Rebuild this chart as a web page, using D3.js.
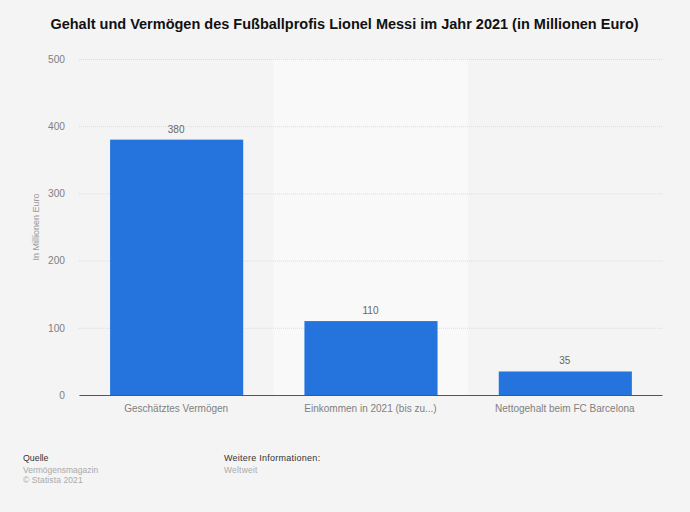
<!DOCTYPE html>
<html lang="de">
<head>
    <meta charset="UTF-8">
    <title>Gehalt und Vermögen Lionel Messi 2021</title>
    <script src="https://d3js.org/d3.v7.min.js"></script>
    <style>
        html, body { margin: 0; padding: 0; background: #f4f4f4; }
        svg { display: block; font-family: "Liberation Sans", Arial, sans-serif; }
    </style>
</head>
<body>

<svg width="690" height="512"></svg>

<script>

    var categories = ["Geschätztes Vermögen", "Einkommen in 2021 (bis zu...)", "Nettogehalt beim FC Barcelona"];
    var values = [380, 110, 35];
    var yTicks = [0, 100, 200, 300, 400, 500];

    var svg = d3.select("svg"),
        margin = {top: 59, right: 28, bottom: 117, left: 79},
        width = +svg.attr("width") - margin.left - margin.right,
        height = +svg.attr("height") - margin.top - margin.bottom;

    var g = svg.append("g")
        .attr("transform", "translate(" + margin.left + "," + margin.top + ")");

    var x = d3.scaleBand()
        .domain(categories)
        .range([0, width]);

    var y = d3.scaleLinear()
        .domain([0, 500])
        .range([height, 0]);

    // lighter band behind the middle category
    g.append("rect")
        .attr("x", x(categories[1]))
        .attr("y", 0)
        .attr("width", x.bandwidth())
        .attr("height", height)
        .attr("fill", "#f9f9f9");

    // y axis, gridlines come from the tick size
    var yAxis = g.append("g")
        .call(d3.axisLeft(y).tickValues(yTicks).tickSize(-width).tickPadding(14));
    yAxis.select(".domain").remove();
    yAxis.selectAll("line")
        .attr("stroke", "#dcdcdc")
        .attr("stroke-dasharray", "1,1");
    yAxis.selectAll("text")
        .attr("fill", "#808080")
        .attr("font-size", 10.2);

    // bars
    g.selectAll(".bar")
        .data(values)
        .enter()
        .append("rect")
        .attr("class", "bar")
        .attr("x", function (d, i) { return x(categories[i]) + x.bandwidth() * 0.16; })
        .attr("y", function (d) { return y(d); })
        .attr("width", x.bandwidth() * 0.685)
        .attr("height", function (d) { return height - y(d); })
        .attr("fill", "#2574de");

    // value labels
    g.selectAll(".value")
        .data(values)
        .enter()
        .append("text")
        .attr("class", "value")
        .attr("x", function (d, i) { return x(categories[i]) + x.bandwidth() / 2; })
        .attr("y", function (d) { return y(d) - 7; })
        .attr("text-anchor", "middle")
        .attr("fill", "#666")
        .attr("font-size", 10)
        .text(function (d) { return d; });

    // x axis
    var xAxis = g.append("g")
        .attr("transform", "translate(0," + height + ")")
        .call(d3.axisBottom(x).tickSize(0).tickPadding(10));
    xAxis.select(".domain").attr("stroke", "#555").attr("stroke-width", 1);
    xAxis.selectAll("text")
        .attr("fill", "#808080")
        .attr("font-size", 10);

    // y axis title
    svg.append("text")
        .attr("transform", "translate(39,227) rotate(-90)")
        .attr("text-anchor", "middle")
        .attr("fill", "#999")
        .attr("font-size", 9)
        .text("In Millionen Euro");

    // title
    svg.append("text")
        .attr("x", 344.5)
        .attr("y", 29)
        .attr("text-anchor", "middle")
        .attr("fill", "#111")
        .attr("font-size", 14.5)
        .attr("font-weight", "bold")
        .text("Gehalt und Vermögen des Fußballprofis Lionel Messi im Jahr 2021 (in Millionen Euro)");

    // footer
    var footer = [
        ["Quelle", 23, 461, "#333", 8.8, 0],
        ["Vermögensmagazin", 23, 473, "#aaa", 8.5, 0],
        ["© Statista 2021", 23, 483, "#aaa", 8.5, 0.1],
        ["Weitere Informationen:", 224, 461, "#333", 9, 0.25],
        ["Weltweit", 224, 473, "#aaa", 8.5, 0.2]
    ];
    svg.selectAll(".footer")
        .data(footer)
        .enter()
        .append("text")
        .attr("class", "footer")
        .attr("x", function (d) { return d[1]; })
        .attr("y", function (d) { return d[2]; })
        .attr("fill", function (d) { return d[3]; })
        .attr("font-size", function (d) { return d[4]; })
        .attr("letter-spacing", function (d) { return d[5]; })
        .text(function (d) { return d[0]; });

</script>

</body>
</html>
